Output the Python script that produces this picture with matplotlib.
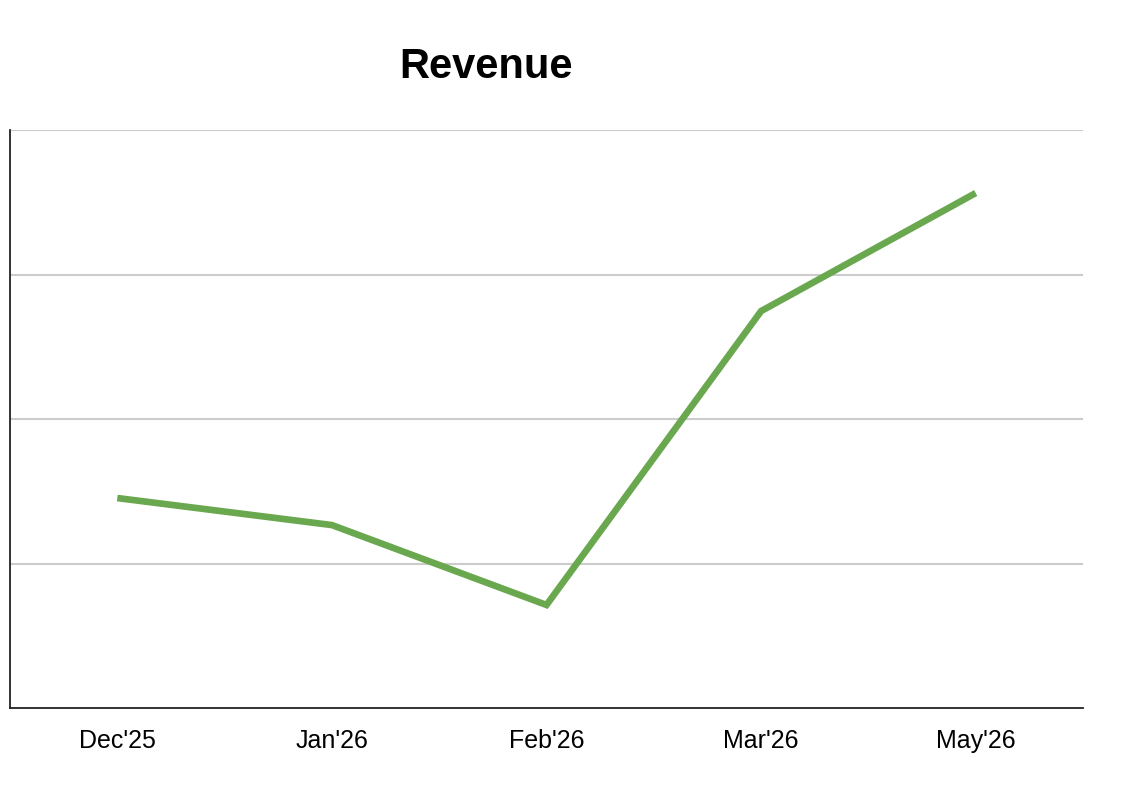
import matplotlib
matplotlib.use("Agg")
import matplotlib.pyplot as plt

categories = ["Dec'25", "Jan'26", "Feb'26", "Mar'26", "May'26"]
revenue = [1.453, 1.266, 0.713, 2.747, 3.564]
grid_levels = [0, 1, 2, 3, 4]

plt.rcParams['font.family'] = ['Liberation Sans', 'DejaVu Sans']

fig = plt.figure(figsize=(11.23, 7.9), dpi=100)
ax = fig.add_axes([0.0089, 0.1038, 0.9555, 0.7316])

x = list(range(len(categories)))
ax.plot(x, revenue, color='#6aa84f', linewidth=4.8, solid_capstyle='butt',
        solid_joinstyle='miter', zorder=3)

for g in grid_levels[1:]:
    ax.axhline(g, color='#cccccc', linewidth=1.5, zorder=1)

ax.set_xlim(-0.5, len(categories) - 0.5)
ax.set_ylim(grid_levels[0], grid_levels[-1])
ax.set_xticks(x)
ax.set_xticklabels(categories, fontsize=18)
ax.set_yticks([])
ax.tick_params(axis='x', length=0, pad=15)
for s in ['top', 'right']:
    ax.spines[s].set_visible(False)
for s in ['left', 'bottom']:
    ax.spines[s].set_color('#222222')
    ax.spines[s].set_linewidth(1.3)

fig.text(0.433, 0.915, "Revenue", ha='center', va='center',
         fontsize=30, fontweight='bold')

fig.savefig("out.png", dpi=100)
